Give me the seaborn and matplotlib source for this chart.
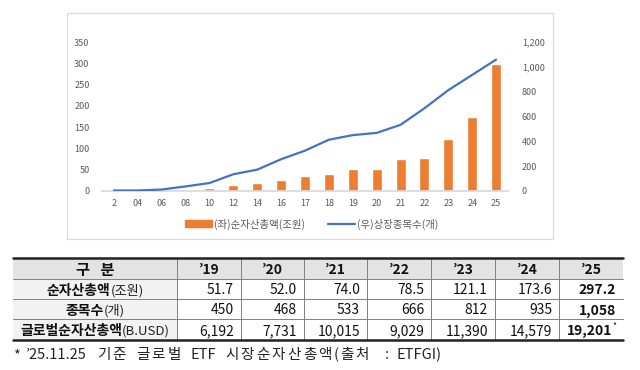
import matplotlib
matplotlib.use("Agg")
import matplotlib.pyplot as plt
import matplotlib.patches as mpatches
import matplotlib.lines as mlines
from matplotlib.ticker import FuncFormatter
import numpy as np
import pandas as pd
import seaborn as sns

# chart data
years = ["2", "04", "06", "08", "10", "12", "14", "16", "17", "18",
         "19", "20", "21", "22", "23", "24", "25"]
net_assets = [0.3, 0.5, 1.7, 3.4, 6.1, 14.7, 19.8, 25.1, 35.6, 41.0,
              51.7, 52.0, 74.0, 78.5, 121.1, 173.6, 297.2]
listed = [4, 4, 12, 37, 64, 135, 172, 256, 325, 413,
          450, 468, 533, 666, 812, 935, 1058]

# table data
tbl_years = ["’19", "’20", "’21", "’22", "’23", "’24", "’25"]
row_bold = ["순자산총액", "종목수", "글로벌순자산총액"]
row_unit = ["(조원)", "(개)", "(B.USD)"]
row_assets = ["51.7", "52.0", "74.0", "78.5", "121.1", "173.6", "297.2"]
row_count = ["450", "468", "533", "666", "812", "935", "1,058"]
row_global = ["6,192", "7,731", "10,015", "9,029", "11,390", "14,579", "19,201"]
foot_words = ["*", "’25.11.25", "기준", "글로벌", "ETF", "시장순자산총액(출처", ":", "ETFGI)"]

ORANGE = "#ED7D31"
BLUE = "#4472C4"
GRAY = "#595959"

sns.set_theme(style="white")
plt.rcParams['font.family'] = ['Noto Sans CJK KR', 'DejaVu Sans']

W, H = 640, 370
fig = plt.figure(figsize=(6.4, 3.7), dpi=100)


def frac(x0, y0, x1, y1):
    return [x0 / W, 1 - y1 / H, (x1 - x0) / W, (y1 - y0) / H]


# background overlay in pixel coords
bg = fig.add_axes([0, 0, 1, 1])
bg.set_xlim(0, W)
bg.set_ylim(H, 0)
bg.axis("off")
bg.add_patch(mpatches.Rectangle((67, 13), 486, 226, fill=False,
                                edgecolor="#D9D9D9", lw=0.8))

# chart
ax = fig.add_axes(frac(102, 42, 508, 191))
df = pd.DataFrame({"year": years, "assets": net_assets, "listed": listed})
sns.barplot(data=df, x="year", y="assets", color=ORANGE, width=0.42,
            saturation=1, ax=ax)
ax.set_ylim(0, 350)
ax.set_xlim(-0.5, len(years) - 0.5)
ax.set_yticks(range(0, 351, 50))
ax.set_xlabel("")
ax.set_ylabel("")
for s in ["top", "right", "left"]:
    ax.spines[s].set_visible(False)
ax.spines["bottom"].set_color("#D9D9D9")
ax.tick_params(axis="both", length=0, labelsize=6.5, labelcolor=GRAY)
ax.tick_params(axis="y", pad=9)
ax.tick_params(axis="x", pad=6)

ax2 = ax.twinx()
sns.lineplot(x=np.arange(len(years)), y=listed, color=BLUE, lw=1.6,
             sort=False, ax=ax2)
ax2.set_ylim(0, 1200)
ax2.set_yticks(range(0, 1201, 200))
ax2.yaxis.set_major_formatter(FuncFormatter(lambda v, p: f"{int(v):,}"))
for s in ["top", "right", "left", "bottom"]:
    ax2.spines[s].set_visible(False)
ax2.tick_params(axis="y", length=0, labelsize=6.5, labelcolor=GRAY, pad=10)
ax.set_xlim(-0.5, len(years) - 0.5)

h1 = mpatches.Patch(color=ORANGE, label="(좌)순자산총액(조원)")
h2 = mlines.Line2D([], [], color=BLUE, lw=1.6, label="(우)상장종목수(개)")
fig.legend(handles=[h1, h2], loc="center", bbox_to_anchor=(312 / W, 1 - 224 / H),
           ncol=2, frameon=False, fontsize=7.5, labelcolor=GRAY,
           handlelength=2.6, handleheight=0.6, columnspacing=2.2,
           handletextpad=0.2)

# table
col_x = [13, 177, 241, 304, 367, 431, 495, 559, 623]
row_y = [258, 279, 299, 319, 340]
bg.add_patch(mpatches.Rectangle((col_x[0], row_y[0]), col_x[-1] - col_x[0],
                                row_y[1] - row_y[0], color="#E3E3E3", lw=0))
bg.add_patch(mpatches.Rectangle((col_x[0], row_y[1]), col_x[1] - col_x[0],
                                row_y[-1] - row_y[1], color="#F2F2F2", lw=0))
for y in row_y[1:-1]:
    bg.plot([col_x[0], col_x[-1]], [y, y], color="#808080", lw=0.7)
for x in col_x[1:-1]:
    bg.plot([x, x], [row_y[0], row_y[-1]], color="#808080", lw=0.7)
bg.plot([col_x[0], col_x[-1]], [row_y[0], row_y[0]], color="#222222", lw=1.8)
bg.plot([col_x[0], col_x[-1]], [row_y[-1], row_y[-1]], color="#222222", lw=1.8)

fs = 10
dy = 1.5
bg.text((col_x[0] + col_x[1]) / 2, (row_y[0] + row_y[1]) / 2 + dy, "구   분",
        ha="center", va="center", fontsize=11, fontweight="bold", color="#111111")
for i, lab in enumerate(tbl_years):
    bg.text((col_x[i + 1] + col_x[i + 2]) / 2, (row_y[0] + row_y[1]) / 2 + dy, lab,
            ha="center", va="center", fontsize=fs, fontweight="bold", color="#111111")

fig.canvas.draw()
rend = fig.canvas.get_renderer()
for r, (b, u) in enumerate(zip(row_bold, row_unit)):
    yc = (row_y[r + 1] + row_y[r + 2]) / 2 + dy
    tb = bg.text(0, yc, b, ha="left", va="center", fontsize=fs,
                 fontweight="bold", color="#111111")
    tu = bg.text(0, yc, u, ha="left", va="center", fontsize=fs - 0.5,
                 color="#222222")
    wb = tb.get_window_extent(rend).width
    wu = tu.get_window_extent(rend).width
    x0 = (col_x[0] + col_x[1]) / 2 - (wb + wu) / 2
    tb.set_x(x0)
    tu.set_x(x0 + wb)

for r, vals in enumerate([row_assets, row_count, row_global]):
    yc = (row_y[r + 1] + row_y[r + 2]) / 2 + dy
    for i, v in enumerate(vals):
        last = i == len(vals) - 1
        pad = 11 if (last and r == 2) else 7
        bg.text(col_x[i + 2] - pad, yc, v, ha="right", va="center", fontsize=fs,
                fontweight="bold" if last else "normal", color="#111111")
bg.text(col_x[-1] - 10.5, (row_y[3] + row_y[4]) / 2 - 4, "*", ha="left",
        va="center", fontsize=6, color="#111111")

# footnote: Korean words get extra letter spacing like the original
foot_x = [13, 26, 97, 136, 191, 225, 385, 397]
for wx, w in zip(foot_x, foot_words):
    if not any(ord(ch) > 0x3000 for ch in w):
        bg.text(wx, 355, w, ha="left", va="center", fontsize=10.5, color="#222222")
        continue
    cx = wx
    for ch in w:
        t = bg.text(cx, 355, ch, ha="left", va="center", fontsize=10.5,
                    color="#222222")
        cw = t.get_window_extent(rend).width
        cx += cw + (2.2 if ord(ch) > 0x3000 else 0.8)

fig.savefig("out.png", dpi=100)
